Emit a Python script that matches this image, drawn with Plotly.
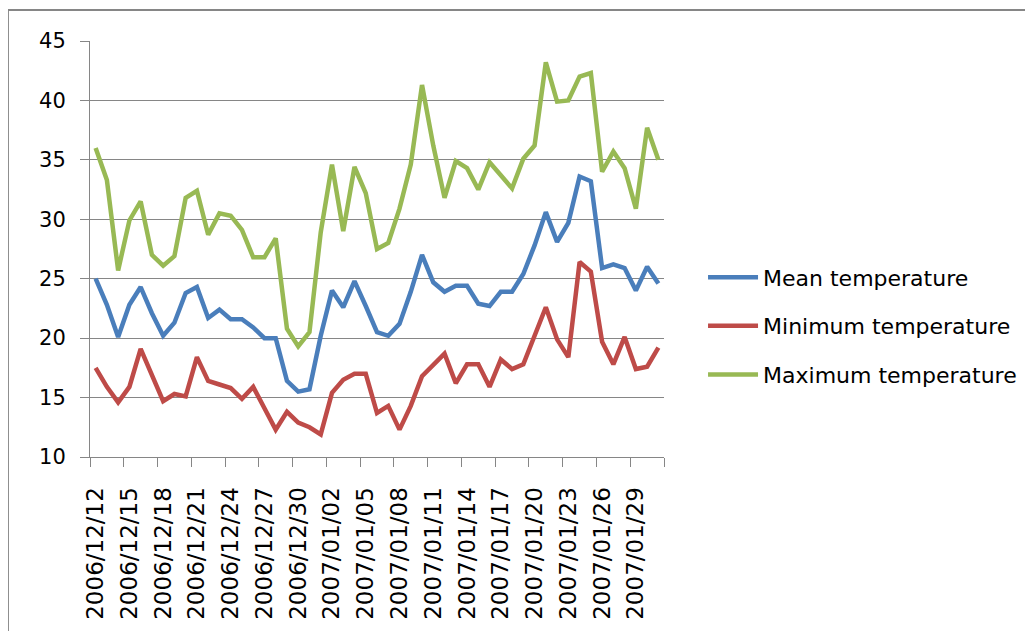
import pandas as pd
import plotly.graph_objects as go

dates = pd.date_range("2006-12-12", "2007-01-31", freq="D")

mean_temp = [25.0, 22.8, 20.1, 22.8, 24.3, 22.1, 20.2, 21.3, 23.8, 24.3,
             21.7, 22.4, 21.6, 21.6, 20.9, 20.0, 20.0, 16.4, 15.5, 15.7,
             20.2, 24.0, 22.6, 24.8, 22.7, 20.5, 20.2, 21.2, 23.9, 27.0,
             24.7, 23.9, 24.4, 24.4, 22.9, 22.7, 23.9, 23.9, 25.4, 27.8,
             30.6, 28.1, 29.7, 33.6, 33.2, 25.9, 26.2, 25.9, 24.0, 26.0, 24.6]

min_temp = [17.5, 15.9, 14.6, 15.9, 19.1, 17.0, 14.7, 15.3, 15.1, 18.4,
            16.4, 16.1, 15.8, 14.9, 15.9, 14.1, 12.3, 13.8, 12.9, 12.5,
            11.9, 15.4, 16.5, 17.0, 17.0, 13.7, 14.3, 12.3, 14.3, 16.8,
            17.8, 18.7, 16.2, 17.8, 17.8, 15.9, 18.2, 17.4, 17.8, 20.2,
            22.6, 19.9, 18.4, 26.4, 25.6, 19.7, 17.8, 20.1, 17.4, 17.6, 19.2]

max_temp = [36.0, 33.3, 25.7, 29.9, 31.5, 27.0, 26.1, 26.9, 31.8, 32.4,
            28.7, 30.5, 30.3, 29.1, 26.8, 26.8, 28.4, 20.8, 19.3, 20.5,
            28.9, 34.6, 29.0, 34.4, 32.2, 27.5, 28.0, 30.9, 34.6, 41.3,
            36.2, 31.8, 34.9, 34.3, 32.5, 34.8, 33.7, 32.6, 35.1, 36.2,
            43.2, 39.9, 40.0, 42.0, 42.3, 34.0, 35.7, 34.3, 30.9, 37.7, 35.0]

tick_labels = ["2006/12/12", "2006/12/15", "2006/12/18", "2006/12/21",
               "2006/12/24", "2006/12/27", "2006/12/30", "2007/01/02",
               "2007/01/05", "2007/01/08", "2007/01/11", "2007/01/14",
               "2007/01/17", "2007/01/20", "2007/01/23", "2007/01/26",
               "2007/01/29"]

series_names = ["Mean temperature", "Minimum temperature", "Maximum temperature"]
series_colors = ["#4A7EBB", "#BE4B48", "#98B954"]

FONT = "DejaVu Sans"
GRID = "#868686"

fig = go.Figure()
for i, (name, vals, col) in enumerate(zip(series_names, [mean_temp, min_temp, max_temp], series_colors)):
    fig.add_trace(go.Scatter(x=dates, y=vals, mode="lines", name=name,
                             legendgroup=str(i),
                             line=dict(color=col, width=4.5)))

half = pd.Timedelta(hours=12)
tick_dates = list(dates[::3])
boundaries = [d - half for d in tick_dates] + [dates[-1] + half]

fig.update_xaxes(
    type="date",
    range=[dates[0] - half, dates[-1] + half],
    tickmode="array",
    tickvals=tick_dates,
    ticktext=tick_labels,
    tickangle=-90,
    ticks="",
    ticklabelstandoff=20,
    tickfont=dict(family=FONT, size=23, color="#000000"),
    showgrid=False,
    showline=True, linecolor=GRID, linewidth=1,
    minor=dict(tickmode="array", tickvals=boundaries, ticks="outside",
               ticklen=9, tickcolor=GRID, tickwidth=1, showgrid=False),
    zeroline=False,
)
fig.update_yaxes(
    range=[10, 45], dtick=5, tick0=10,
    ticks="outside", ticklen=9, tickcolor=GRID,
    ticklabelstandoff=10,
    tickfont=dict(family=FONT, size=21, color="#000000"),
    showgrid=True, gridcolor=GRID, gridwidth=1,
    showline=True, linecolor=GRID, linewidth=1,
    zeroline=False,
)

fig.update_layout(
    width=1033, height=631,
    margin=dict(l=82, r=377, t=33, b=182),
    paper_bgcolor="white", plot_bgcolor="white",
    font=dict(family=FONT, color="#000000"),
    showlegend=True,
    legend=dict(x=1.068, xanchor="left", y=0.315, yanchor="middle",
                font=dict(family=FONT, size=22, color="#000000"),
                itemwidth=50,
                tracegroupgap=17, traceorder="grouped",
                bgcolor="rgba(0,0,0,0)"),
    shapes=[dict(type="rect", xref="paper", yref="paper",
                 x0=-0.143, x1=1.7, y0=-0.5, y1=1.0745,
                 line=dict(color="#868686", width=2), layer="below")],
)

fig.write_html("out.html")
